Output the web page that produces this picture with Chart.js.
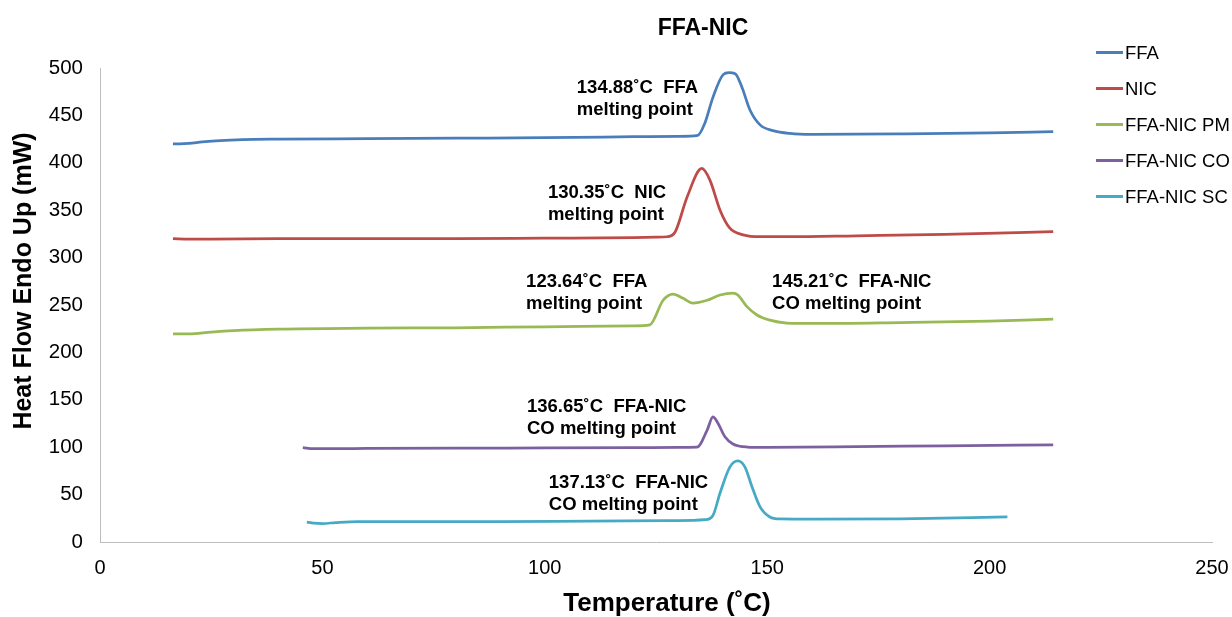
<!DOCTYPE html>
<html>
<head>
<meta charset="utf-8">
<script src="https://cdn.jsdelivr.net/npm/chart.js@4/dist/chart.umd.min.js"></script>
<style>
html,body{margin:0;padding:0;background:#fff;}
#wrap{width:1232px;height:617px;position:relative;}
</style>
</head>
<body>
<div id="wrap"><canvas id="c" width="1232" height="617"></canvas></div>
<script>
// ---- Data ----
const chartTitle = "FFA-NIC";
const xTitle = "Temperature (˚C)";
const yTitle = "Heat Flow Endo Up (mW)";
const xTicks = [0, 50, 100, 150, 200, 250];
const yTicks = [0, 50, 100, 150, 200, 250, 300, 350, 400, 450, 500];

const seriesNames = ["FFA", "NIC", "FFA-NIC PM", "FFA-NIC CO", "FFA-NIC SC"];
const seriesColors = ["#4A7EBB", "#BE4B48", "#98B954", "#7D60A0", "#46AAC5"];

const ffaTemp = [16.4, 18, 20, 23, 27, 32, 40, 60, 80, 100, 120, 130, 134.4, 136.0, 137.8, 140.1, 141.4, 142.8, 144.3, 146.1, 148.4, 151.3, 155.1, 160, 180, 200, 214.3];
const ffaHeat = [420, 420, 420.5, 422, 423.5, 424.5, 425, 425.5, 426, 426.5, 427.5, 428, 429, 442, 469, 493, 495, 494, 480, 456, 440, 434, 431, 430, 430.5, 431.5, 433];

const nicTemp = [16.4, 20, 25, 40, 60, 80, 100, 120, 125, 127.5, 129.3, 132.0, 135.3, 137.1, 139.4, 141.6, 144.6, 148.4, 155, 170, 190, 214.3];
const nicHeat = [320, 319.5, 319.5, 320, 320, 320, 320.5, 321, 321.5, 322, 327, 364, 394, 382, 350, 331, 324, 322, 322, 323, 324.5, 327.5];

const pmTemp = [16.4, 20, 25, 30, 40, 60, 80, 100, 120, 123.6, 126.6, 128.8, 131.1, 133.3, 136.5, 139.4, 142.3, 143.4, 145.5, 147.7, 150.6, 154.4, 160, 180, 200, 214.3];
const pmHeat = [219.5, 219.5, 221.5, 223, 224.5, 225.5, 226, 227, 228, 229, 255, 261.5, 257, 252, 255, 260.5, 262.5, 260.5, 248, 239.5, 234, 231, 230.5, 231.5, 233, 235];

const coTemp = [45.6, 48, 52, 60, 80, 100, 120, 130, 134.2, 136.5, 137.8, 138.9, 140.5, 142.3, 145.5, 150, 170, 190, 214.3];
const coHeat = [99.5, 98.5, 98.5, 98.7, 99, 99.2, 99.5, 99.8, 100, 118, 132, 125.5, 111, 103.4, 100.2, 99.8, 100.5, 101.5, 102.5];

const scTemp = [46.5, 48, 50, 53, 58, 70, 90, 110, 130, 136, 137.8, 139.4, 141.6, 143.4, 145.0, 146.6, 148.4, 150.6, 152.9, 160, 180, 204];
const scHeat = [21, 20, 19.5, 20.5, 21.5, 21.5, 21.5, 22, 22.5, 23.5, 28, 51.7, 79, 85.5, 79, 58, 37, 26.4, 24.3, 24, 24.5, 26.5];

// Annotations: text lines, anchored (first line, left edge) in data units
const annoLines = [
  ["134.88˚C  FFA", "melting point"],
  ["130.35˚C  NIC", "melting point"],
  ["123.64˚C  FFA", "melting point"],
  ["145.21˚C  FFA-NIC", "CO melting point"],
  ["136.65˚C  FFA-NIC", "CO melting point"],
  ["137.13˚C  FFA-NIC", "CO melting point"]
];
const annoX = [107.2, 100.7, 95.8, 151.1, 96.0, 100.9];
const annoY = [479, 368, 274.3, 274.3, 142.4, 62.2];

// ---- Build chart ----
const FONT = '"Liberation Sans", Arial, Helvetica, sans-serif';
const temps = [ffaTemp, nicTemp, pmTemp, coTemp, scTemp];
const heats = [ffaHeat, nicHeat, pmHeat, coHeat, scHeat];
const datasets = seriesNames.map((name, i) => ({
  label: name,
  data: temps[i].map((t, k) => ({x: t, y: heats[i][k]})),
  borderColor: seriesColors[i],
  backgroundColor: seriesColors[i],
  borderWidth: 2.75,
  pointRadius: 0,
  cubicInterpolationMode: 'monotone',
  fill: false
}));

const overlay = {
  id: 'overlay',
  afterDraw(chart) {
    const {ctx, scales: {x, y}} = chart;
    ctx.save();
    ctx.fillStyle = '#000';
    // title
    ctx.font = 'bold 23px ' + FONT;
    ctx.textAlign = 'center';
    ctx.textBaseline = 'middle';
    ctx.fillText(chartTitle, 703, 29);
    // annotations
    ctx.font = 'bold 18.5px ' + FONT;
    ctx.textAlign = 'left';
    annoLines.forEach((lines, i) => {
      const px = x.getPixelForValue(annoX[i]);
      const py = y.getPixelForValue(annoY[i]);
      lines.forEach((t, j) => ctx.fillText(t, px, py + j * 22));
    });
    // legend
    ctx.font = '18.5px ' + FONT;
    seriesNames.forEach((name, i) => {
      const ly = 52.5 + i * 36;
      ctx.strokeStyle = seriesColors[i];
      ctx.lineWidth = 3;
      ctx.beginPath();
      ctx.moveTo(1096, ly);
      ctx.lineTo(1123, ly);
      ctx.stroke();
      ctx.fillStyle = '#000';
      ctx.fillText(name, 1125, ly + 1);
    });
    // x axis title
    ctx.font = 'bold 26px ' + FONT;
    ctx.textAlign = 'center';
    ctx.fillText(xTitle, 667, 604);
    // y axis title
    ctx.translate(24, 281);
    ctx.rotate(-Math.PI / 2);
    ctx.font = 'bold 25px ' + FONT;
    ctx.fillText(yTitle, 0, 0);
    ctx.restore();
  }
};

new Chart(document.getElementById('c'), {
  type: 'line',
  data: {datasets},
  options: {
    responsive: false,
    animation: false,
    layout: {padding: {left: 0, right: 20, top: 68, bottom: 0}},
    plugins: {legend: {display: false}, title: {display: false}, tooltip: {enabled: false}},
    scales: {
      x: {
        type: 'linear',
        min: xTicks[0], max: xTicks[xTicks.length - 1],
        afterBuildTicks: s => { s.ticks = xTicks.map(v => ({value: v})); },
        afterFit: s => { s.height = 75; s.paddingLeft = 0; s.paddingRight = 0; },
        grid: {display: false, drawTicks: false},
        border: {display: true, color: '#bdbdbd', width: 1},
        ticks: {color: '#000', font: {family: FONT, size: 20}, padding: 14, maxRotation: 0}
      },
      y: {
        min: yTicks[0], max: yTicks[yTicks.length - 1],
        afterBuildTicks: s => { s.ticks = yTicks.map(v => ({value: v})); },
        afterFit: s => { s.width = 100; s.paddingTop = 0; s.paddingBottom = 0; },
        grid: {display: false, drawTicks: false},
        border: {display: true, color: '#bdbdbd', width: 1},
        ticks: {color: '#000', font: {family: FONT, size: 20.5}, padding: 17}
      }
    }
  },
  plugins: [overlay]
});
</script>
</body>
</html>
